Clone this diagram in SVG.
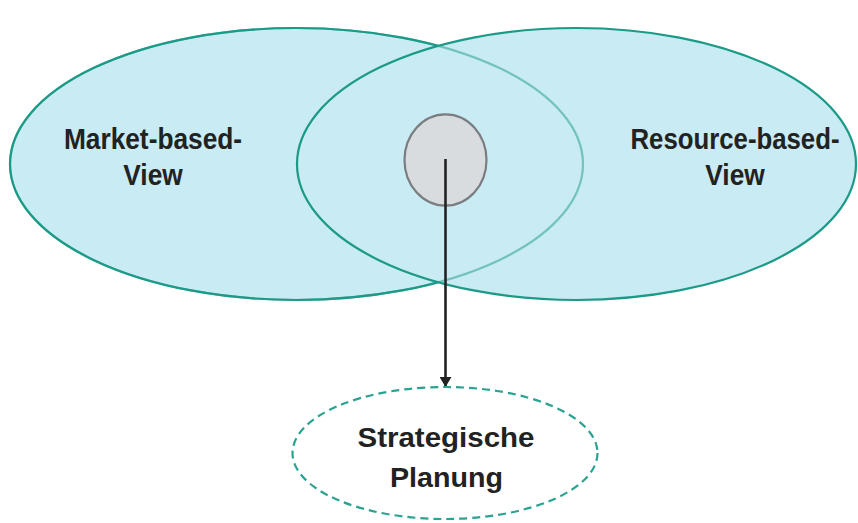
<svg xmlns="http://www.w3.org/2000/svg" width="858" height="523" viewBox="0 0 858 523">
<defs>
<style>
.view{fill:#c9ebf3;stroke:#1b9a88;stroke-width:2.2}
.lbl{font-family:"Liberation Sans",Arial,sans-serif;font-weight:bold;fill:#222;text-anchor:middle}
.top{font-size:26.3px}
</style>
<marker id="arr" viewBox="0 0 10 12" refX="10" refY="6" markerWidth="10" markerHeight="12" orient="auto" markerUnits="userSpaceOnUse">
<path d="M0,0 L10,6 L0,12 z" fill="#222"/>
</marker>
</defs>
<rect width="858" height="523" fill="#fff"/>
<g id="market">
<ellipse class="view" cx="296.5" cy="164" rx="286.5" ry="136"/>
</g>
<g id="resource">
<ellipse class="view" cx="576.5" cy="164" rx="279.5" ry="136"/>
</g>
<ellipse cx="296.5" cy="164" rx="286.5" ry="136" fill="none" stroke="#1b9a88" stroke-width="2.2" stroke-opacity="0.5"/>
<g id="market-label">
<text class="lbl top" transform="translate(153,149) scale(1,1.13)">Market-based-</text>
<text class="lbl top" transform="translate(153,185) scale(1,1.13)">View</text>
</g>
<g id="resource-label">
<text class="lbl top" transform="translate(735,149) scale(0.98,1.13)">Resource-based-</text>
<text class="lbl top" transform="translate(735,185) scale(1,1.13)">View</text>
</g>
<g id="core">
<ellipse cx="445.5" cy="160" rx="41" ry="45.7" fill="#d9dcdf" stroke="#7a7d80" stroke-width="2.2"/>
</g>
<g id="connectors">
<line x1="445.5" y1="159" x2="445.5" y2="387" stroke="#222" stroke-width="2.6" marker-end="url(#arr)"/>
</g>
<g id="planung">
<ellipse cx="445" cy="453" rx="152.5" ry="66" fill="#fff" stroke="#2aa391" stroke-width="2.2" stroke-dasharray="8,5"/>
<text class="lbl" x="446" y="447" font-size="28.5" textLength="177" lengthAdjust="spacingAndGlyphs">Strategische</text>
<text class="lbl" x="446.5" y="487" font-size="28.5" textLength="113" lengthAdjust="spacingAndGlyphs">Planung</text>
</g>
</svg>
